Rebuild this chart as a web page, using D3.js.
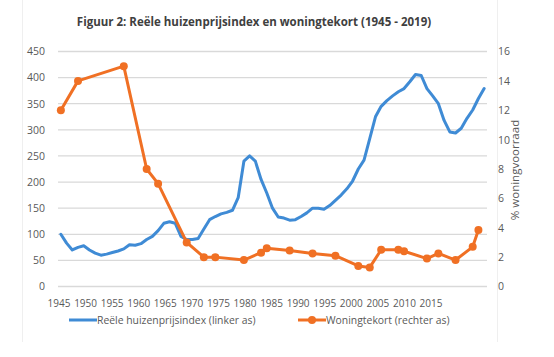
<!DOCTYPE html>
<html><head><meta charset="utf-8">
<script src="https://cdn.jsdelivr.net/npm/d3@7"></script>
<style>body{margin:0;background:#fff;} svg{display:block;font-family:"Open Sans",sans-serif;}</style>
</head><body>
<svg id="c" width="554" height="357"></svg>
<script>
const years = d3.range(1945, 2020);
const priceIndex = [100,83,70,75,78,70,64,60,62,65,68,72,80,79,82,90,96,107,121,124,121,96,90,90,92,110,128,134,139,142,146,170,240,250,240,205,179,150,133,131,127,128,134,141,150,150,148,155,165,175,187,202,225,242,283,325,345,356,365,373,379,392,406,404,379,365,350,318,296,294,303,322,338,360,379];
const shortageYears = [1945,1948,1956,1960,1962,1967,1970,1972,1977,1980,1981,1985,1989,1993,1997,1999,2001,2004,2005,2009,2011,2014,2017,2018];
const shortageValues = [12,14,15,8,7,3,2,2,1.8,2.3,2.6,2.45,2.25,2.1,1.4,1.3,2.5,2.5,2.4,1.9,2.25,1.8,2.7,3.85];
const leftTicks = [0,50,100,150,200,250,300,350,400,450];
const rightTicks = [0,2,4,6,8,10,12,14,16];
const xLabels = ["1945","1950","1955","1960","1965","1970","1975","1980","1985","1990","1995","2000","2005","2010","2015"];
const title = "Figuur 2: Reële huizenprijsindex en woningtekort (1945 - 2019)";
const rightTitle = "% woningvoorraad";
const legendLabels = ["Reële huizenprijsindex (linker as)", "Woningtekort (rechter as)"];

const blue = "#3f8bd5", orange = "#f07024", grid = "#d9d9d9", txt = "#595959";
const svg = d3.select("#c");

// frame
svg.append("line").attr("x1",22.5).attr("x2",22.5).attr("y1",0).attr("y2",342).attr("stroke","#efefef");
svg.append("line").attr("x1",497.5).attr("x2",497.5).attr("y1",0).attr("y2",342).attr("stroke","#efefef");

const x = d3.scaleLinear().domain([1944.5, 2019.5]).range([58, 487]);
const yL = d3.scaleLinear().domain([0, 450]).range([286.5, 51.5]);
const yR = d3.scaleLinear().domain([0, 16]).range([286.5, 51.5]);
const xl = d3.scalePoint().domain(xLabels).range([58.5, 430.5]);

svg.append("text").attr("x",254).attr("y",26).attr("text-anchor","middle")
  .attr("font-size",11.5).attr("font-weight","bold").attr("fill","#404040").text(title);

// grid
svg.append("g").selectAll("line").data(leftTicks).join("line")
  .attr("x1",58).attr("x2",487).attr("y1",d=>yL(d)).attr("y2",d=>yL(d))
  .attr("stroke",grid).attr("stroke-width",1.3);

// left axis labels
const gl = svg.append("g").attr("transform","translate(45,0)")
  .call(d3.axisLeft(yL).tickValues(leftTicks).tickSize(0).tickPadding(0));
gl.select(".domain").remove();
gl.selectAll("text").attr("font-size",10.5).attr("fill",txt).attr("font-family","Open Sans");

const gr = svg.append("g").attr("transform","translate(498,0)")
  .call(d3.axisRight(yR).tickValues(rightTicks).tickSize(0).tickPadding(0));
gr.select(".domain").remove();
gr.selectAll("text").attr("font-size",10.5).attr("fill",txt).attr("font-family","Open Sans");

const gx = svg.append("g").attr("transform","translate(0,300)")
  .call(d3.axisBottom(xl).tickSize(0).tickPadding(0));
gx.select(".domain").remove();
gx.selectAll("text").attr("font-size",10).attr("fill",txt).attr("font-family","Open Sans").attr("dy","0.71em");

svg.append("text").attr("transform","translate(519,170) rotate(-90)").attr("text-anchor","middle")
  .attr("font-size",11.5).attr("fill",txt).text(rightTitle);

// blue line
svg.append("path").datum(years.map((y,i)=>[y,priceIndex[i]]))
  .attr("d", d3.line().x(d=>x(d[0])).y(d=>yL(d[1])))
  .attr("fill","none").attr("stroke",blue).attr("stroke-width",3).attr("stroke-linejoin","round").attr("stroke-linecap","round");

// orange line
const od = shortageYears.map((y,i)=>[y,shortageValues[i]]);
svg.append("path").datum(od)
  .attr("d", d3.line().x(d=>x(d[0])).y(d=>yR(d[1])))
  .attr("fill","none").attr("stroke",orange).attr("stroke-width",3).attr("stroke-linejoin","round");
svg.append("g").selectAll("circle").data(od).join("circle")
  .attr("cx",d=>x(d[0])).attr("cy",d=>yR(d[1])).attr("r",4).attr("fill",orange);

// legend
const lg = svg.append("g");
lg.append("line").attr("x1",69).attr("x2",97).attr("y1",320).attr("y2",320).attr("stroke",blue).attr("stroke-width",3);
lg.append("text").attr("x",97).attr("y",324).attr("font-size",10.4).attr("fill",txt).text(legendLabels[0]);
lg.append("line").attr("x1",298).attr("x2",326).attr("y1",320).attr("y2",320).attr("stroke",orange).attr("stroke-width",3);
lg.append("circle").attr("cx",312).attr("cy",320).attr("r",4).attr("fill",orange);
lg.append("text").attr("x",326).attr("y",324).attr("font-size",10.4).attr("fill",txt).text(legendLabels[1]);
</script>
</body></html>
